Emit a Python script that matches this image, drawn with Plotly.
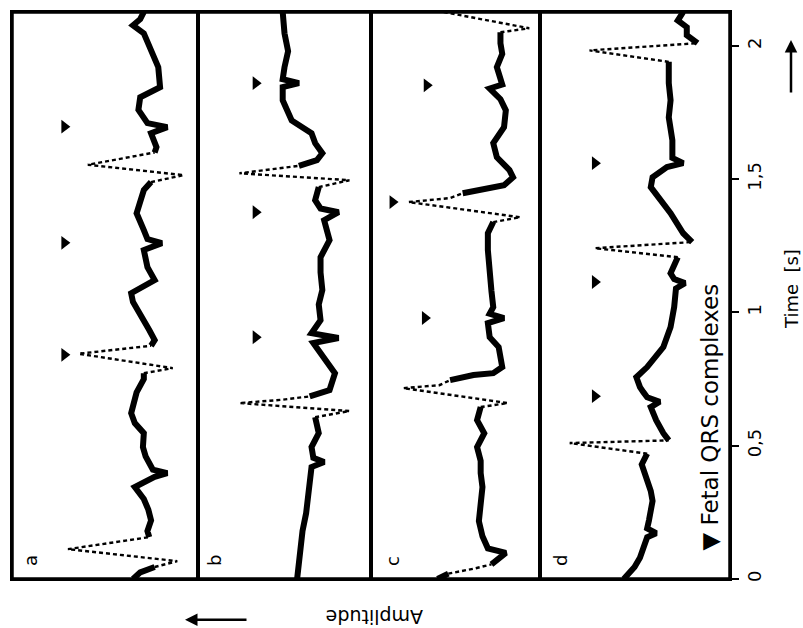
import plotly.graph_objects as go
from plotly.subplots import make_subplots

# ---------------- data (time in s, amplitude in arbitrary units, + = left) ----------------
panels = ["a", "b", "c", "d"]

# slow (solid) part of each trace, None = gap at a QRS complex
a_t = [0.0, 0.025, 0.045, None, 0.157, 0.18, 0.22, 0.26, 0.30, 0.345, 0.383, 0.397, 0.41, 0.46, 0.495,
       0.547, 0.585, 0.622, 0.70, 0.75, 0.772, None, 0.875, 0.896, 0.934, 0.971, 1.009, 1.039, 1.072,
       1.121, 1.17, 1.234, 1.26, 1.275, 1.309, 1.372, 1.459, 1.489, None, 1.60, 1.62, 1.672, 1.695,
       1.71, 1.76, 1.807, 1.845, 1.92, 2.0, 2.047, 2.077, 2.10, 2.127]
a_v = [3.6, 3.2, 2.4, None, 2.7, 2.8, 2.6, 2.75, 3.0, 3.5, 2.4, 1.7, 2.5, 2.9, 3.05,
       3.0, 3.5, 3.7, 3.4, 3.0, 3.0, None, 2.6, 2.4, 2.7, 3.0, 3.4, 3.6, 3.7,
       2.4, 2.8, 3.0, 2.0, 2.8, 3.0, 3.4, 3.0, 2.6, None, 2.4, 2.3, 2.6, 1.7,
       2.8, 3.3, 3.2, 2.1, 2.2, 2.7, 3.0, 3.6, 3.2, 3.0]
a_qrs_t = [0.045, 0.067, 0.112, 0.157, None, 0.772, 0.791, 0.845, 0.875, None, 1.489, 1.515, 1.554, 1.60]
a_qrs_v = [2.4, 1.15, 7.2, 2.7, None, 3.0, 1.4, 6.6, 2.6, None, 2.6, 0.8, 6.1, 2.4]
a_fetal_t = [0.841, 1.261, 1.697]
a_fetal_v = [7.4, 7.4, 7.4]

b_t = [0.0, 0.06, 0.12, 0.18, 0.247, 0.30, 0.345, 0.42, 0.439, 0.455, 0.495, 0.547, 0.607, None,
       0.685, 0.709, 0.772, 0.832, 0.885, 0.904, 0.915, 0.922, 0.971, 1.03, 1.084, 1.15, 1.207, 1.271,
       1.346, 1.376, 1.39, 1.421, 1.47, None, 1.55, 1.571, 1.597, 1.635, 1.672, 1.72, 1.796, 1.845,
       1.86, 1.875, 1.92, 1.98, 2.047, 2.127]
b_v = [4.1, 4.0, 3.9, 3.8, 3.6, 3.5, 3.4, 3.3, 2.6, 3.2, 3.3, 2.9, 3.1, None,
       3.4, 2.3, 2.0, 2.6, 3.2, 1.8, 3.0, 3.3, 2.8, 2.9, 2.7, 2.8, 2.8, 2.3,
       2.6, 1.8, 2.8, 3.1, 2.9, None, 4.0, 3.0, 2.7, 3.1, 3.3, 4.4, 4.9, 4.9,
       4.0, 4.9, 4.8, 4.6, 4.8, 4.9]
b_qrs_t = [0.607, 0.63, 0.66, 0.672, 0.685, None, 1.47, 1.496, 1.522, 1.536, 1.55]
b_qrs_v = [3.1, 1.2, 7.3, 5.0, 3.4, None, 2.9, 1.2, 7.3, 5.6, 4.0]
b_fetal_t = [0.907, 1.376, 1.86]
b_fetal_v = [6.4, 6.4, 6.4]

c_t = [0.0, 0.02, None, 0.055, 0.08, 0.098, 0.115, 0.16, 0.217, 0.28, 0.345, 0.397, 0.443, 0.495,
       0.547, 0.596, 0.645, None, 0.746, 0.765, 0.772, 0.795, 0.87, 0.907, 0.96, 0.979, 0.995, 1.02,
       1.08, 1.147, 1.234, 1.297, 1.339, None, 1.447, 1.459, 1.477, 1.507, 1.534, 1.582, 1.635,
       1.695, 1.758, 1.80, 1.84, 1.855, 1.92, 1.97, 2.01, 2.051]
c_v = [5.7, 5.1, None, 2.7, 2.3, 1.9, 2.9, 3.2, 3.4, 3.3, 3.2, 3.3, 3.3, 3.5,
       3.1, 3.5, 3.3, None, 5.0, 3.7, 2.6, 2.1, 2.3, 2.8, 2.9, 2.0, 2.8, 2.6,
       2.7, 2.8, 2.9, 2.9, 2.6, None, 4.3, 3.3, 2.0, 1.5, 1.7, 2.4, 2.6,
       2.0, 1.9, 2.2, 2.8, 2.1, 2.4, 2.1, 2.2, 2.2]
c_qrs_t = [0.02, 0.04, 0.055, None, 0.645, 0.66, 0.716, 0.727, 0.746, None,
           1.339, 1.357, 1.414, 1.429, 1.447, None, 2.051, 2.066, 2.13]
c_qrs_v = [5.1, 3.6, 2.7, None, 3.3, 1.8, 7.6, 5.6, 5.0, None,
           2.6, 1.1, 7.3, 5.0, 4.3, None, 2.2, 0.6, 5.6]
c_fetal_t = [0.979, 1.414, 1.852]
c_fetal_v = [6.4, 8.2, 6.3]

d_t = [0.0, 0.022, 0.045, 0.08, 0.112, 0.157, 0.172, 0.19, 0.22, 0.293, 0.33, 0.368, 0.397, 0.43,
       0.47, None, 0.52, 0.547, 0.596, 0.645, 0.665, 0.682, 0.70, 0.72, 0.757, 0.795, 0.87, 0.945,
       1.02, 1.09, 1.11, 1.125, 1.147, 1.207, None, 1.264, 1.297, 1.372, 1.421, 1.47, 1.507, 1.545,
       1.56, 1.58, 1.646, 1.732, 1.796, 1.86, 1.94, None, 2.01, 2.04, 2.07, 2.095, 2.127]
d_v = [5.9, 5.6, 5.3, 5.0, 4.8, 4.6, 4.1, 4.6, 4.5, 4.3, 4.4, 4.6, 4.8, 4.9,
       4.6, None, 3.4, 3.7, 4.1, 4.4, 3.9, 4.6, 4.8, 5.0, 5.2, 4.6, 3.7, 3.3,
       3.1, 3.0, 2.5, 3.1, 3.3, 2.9, None, 2.1, 2.6, 3.3, 3.9, 4.4, 4.3, 3.5,
       2.6, 3.2, 3.2, 3.4, 3.3, 3.4, 3.4, None, 1.8, 2.4, 2.4, 2.9, 2.6]
d_qrs_t = [0.47, 0.51, 0.52, None, 1.207, 1.241, 1.264, None, 1.94, 1.983, 2.01]
d_qrs_v = [4.6, 8.9, 3.4, None, 2.9, 7.5, 2.1, None, 3.4, 7.8, 1.8]
d_fetal_t = [0.686, 1.114, 1.56]
d_fetal_v = [7.5, 7.5, 7.5]

time_ticks = [0, 0.5, 1, 1.5, 2]
time_tick_labels = ["0", "0,5", "1", "1,5", "2"]

# ---------------- figure ----------------
slow = [(a_t, a_v), (b_t, b_v), (c_t, c_v), (d_t, d_v)]
qrs = [(a_qrs_t, a_qrs_v), (b_qrs_t, b_qrs_v), (c_qrs_t, c_qrs_v), (d_qrs_t, d_qrs_v)]
fetal = [(a_fetal_t, a_fetal_v), (b_fetal_t, b_fetal_v), (c_fetal_t, c_fetal_v), (d_fetal_t, d_fetal_v)]
amp_max = [10.3, 9.6, 9.4, 10.55]

fig = make_subplots(rows=1, cols=4, shared_yaxes=True, horizontal_spacing=0,
                    column_widths=[186, 173, 169, 190])

for i in range(4):
    col = i + 1
    qt, qv = qrs[i]
    fig.add_trace(go.Scatter(x=qv, y=qt, mode="lines", connectgaps=False,
                             line=dict(color="black", width=2.4, dash="4px,3px")), row=1, col=col)
    st, sv = slow[i]
    fig.add_trace(go.Scatter(x=sv, y=st, mode="lines", connectgaps=False,
                             line=dict(color="black", width=6)), row=1, col=col)
    ft, fv = fetal[i]
    fig.add_trace(go.Scatter(x=fv, y=ft, mode="markers",
                             marker=dict(symbol="triangle-right", size=12, color="black",
                                         line=dict(width=0))), row=1, col=col)
    fig.update_xaxes(range=[amp_max[i], 0], showgrid=False, zeroline=False, showticklabels=False,
                     ticks="", showline=True, mirror=True, linecolor="black", linewidth=2,
                     row=1, col=col)

fig.update_yaxes(range=[0, 2.127], showgrid=False, zeroline=False, showticklabels=False, ticks="",
                 showline=True, mirror=True, linecolor="black", linewidth=2)
fig.update_yaxes(side="right", showticklabels=True, ticks="outside", ticklen=7, tickwidth=2,
                 tickcolor="black", tickvals=time_ticks, ticktext=time_tick_labels, tickangle=-90,
                 tickfont=dict(family="DejaVu Sans", size=18, color="black"), row=1, col=4)

L, R, T, B = 12, 73, 10, 49
W, H = 803, 628
pw, ph = W - L - R, H - T - B


def px(x):
    return (x - L) / pw


def py(y):
    return (H - B - y) / ph


font = "DejaVu Sans"
ann = []
ann.append(dict(text="Time\u00a0\u00a0[s]", x=px(791), y=py(288), textangle=-90,
                font=dict(family=font, size=18, color="black")))
ann.append(dict(text="", x=px(791), y=py(38), ax=0, ay=54, showarrow=True, arrowhead=2,
                arrowsize=1, arrowwidth=2.5, arrowcolor="black"))
ann.append(dict(text="Amplitude", x=px(375), y=py(617), textangle=180,
                font=dict(family=font, size=19, color="black")))
ann.append(dict(text="", x=px(185), y=py(620), ax=63, ay=0, showarrow=True, arrowhead=2,
                arrowsize=1, arrowwidth=2.5, arrowcolor="black"))
for lab, xx in zip(panels, [30, 214, 392, 560]):
    ann.append(dict(text=lab, x=px(xx), y=py(561), textangle=-90,
                    font=dict(family=font, size=18, color="black")))
ann.append(dict(text="\u25BC Fetal QRS complexes", x=px(710), y=py(417), textangle=-90,
                font=dict(family=font, size=23, color="black")))
for a in ann:
    a.setdefault("showarrow", False)
    a.update(xref="paper", yref="paper", xanchor="center", yanchor="middle")

fig.update_layout(
    width=W, height=H, margin=dict(l=L, r=R, t=T, b=B),
    paper_bgcolor="white", plot_bgcolor="white", showlegend=False,
    annotations=ann,
    shapes=[dict(type="rect", xref="paper", yref="paper", x0=0, x1=1, y0=0, y1=1,
                 line=dict(color="black", width=3.5))],
)

fig.write_html("out.html")
